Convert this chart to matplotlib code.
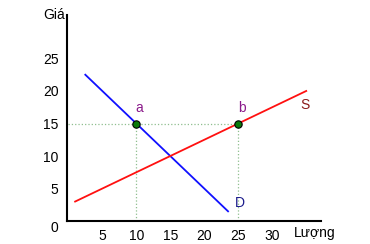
import matplotlib
matplotlib.use('Agg')
from matplotlib import pyplot as plt

plt.rcParams['font.family'] = ['Liberation Sans', 'DejaVu Sans']

# demand line D and supply line S (price vs quantity)
demand_q = [2.5, 23.5]
demand_p = [22.5, 1.5]
supply_q = [1.0, 35.0]
supply_p = [3.0, 20.0]

# marked points a and b
point_labels = ['a', 'b']
point_q = [10, 25]
point_p = [15, 15]

x_ticks = [5, 10, 15, 20, 25, 30]
y_ticks = [0, 5, 10, 15, 20, 25]

fig = plt.figure(figsize=(3.7, 2.44), dpi=100)
ax = fig.add_axes([0.181, 0.094, 0.687, 0.845])

# dotted guide lines
ax.plot([0, point_q[1]], [point_p[0], point_p[1]], linestyle=':', color='#8fbf8f', lw=0.9)
for q, p in zip(point_q, point_p):
    ax.plot([q, q], [0, p], linestyle=':', color='#8fbf8f', lw=0.9)

ax.plot(demand_q, demand_p, color='#1010ff', lw=1.3)
ax.plot(supply_q, supply_p, color='#ff1010', lw=1.3)

ax.scatter(point_q, point_p, s=28, color='#0a7a0a', edgecolors='black', linewidths=0.8, zorder=5)
for lab, q, p in zip(point_labels, point_q, point_p):
    ax.text(q + 0.5, p + 2.4, lab, color='#8b1a8b', fontsize=10, ha='center', va='center')

ax.text(25.3, 2.8, 'D', color='#1a1a8b', fontsize=10, ha='center', va='center')
ax.text(34.8, 17.9, 'S', color='#8b1a1a', fontsize=10, ha='center', va='center')

ax.set_xlim(-0.2, 37.2)
ax.set_ylim(0, 31.7)
ax.set_xticks(x_ticks)
ax.set_yticks(y_ticks)
ax.tick_params(length=0, labelsize=10, pad=6)
ax.get_yticklabels()[0].set_va('top')
for side in ['top', 'right']:
    ax.spines[side].set_visible(False)
for side in ['left', 'bottom']:
    ax.spines[side].set_linewidth(1.5)

ax.text(-0.5, 31.7, 'Giá', fontsize=10, ha='right', va='center')
ax.text(36.2, -1.85, 'Lượng', fontsize=10, ha='center', va='center')

fig.savefig('out.png', dpi=100)
